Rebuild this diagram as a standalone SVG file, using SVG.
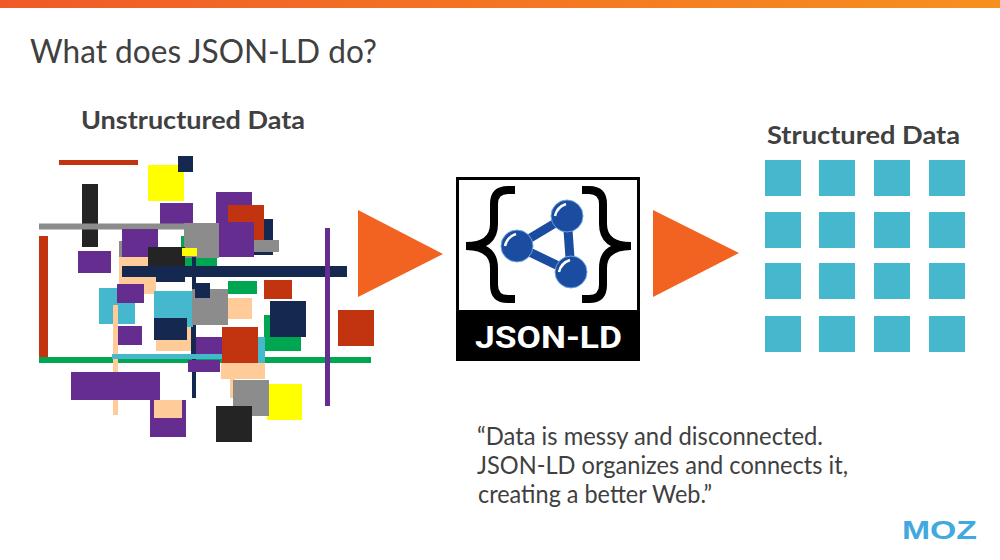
<svg xmlns="http://www.w3.org/2000/svg" width="1000" height="560" viewBox="0 0 1000 560">
<style>
text{font-family:Lato,"Open Sans","Liberation Sans",sans-serif;fill:#404040}
.h{font-weight:700;font-size:25px}
.q{font-size:25px}
.n{fill:#142850}.p{fill:#662D91}.r{fill:#C1340F}.y{fill:#FFFF00}.k{fill:#242424}.g{fill:#8C8C8C}.e{fill:#00A651}.t{fill:#45B8CE}.c{fill:#FFCC99}
.br{fill:none;stroke:#000;stroke-width:8}
.arrow{fill:#F26322}
.atom{fill:#1A4CA0;stroke:#6FA3DE;stroke-width:1}
</style>
<defs>
<linearGradient id="bar" x1="0" x2="1" y1="0" y2="0"><stop offset="0" stop-color="#F05A28"/><stop offset="1" stop-color="#F7901E"/></linearGradient>
</defs>
<rect width="1000" height="560" fill="#fff"/>
<rect width="1000" height="8" fill="url(#bar)"/>
<text id="title" x="30" y="63" font-size="33" textLength="347" lengthAdjust="spacingAndGlyphs">What does JSON-LD do?</text>

<g id="unstructured">
<text class="h" x="81" y="129" textLength="224" lengthAdjust="spacingAndGlyphs">Unstructured Data</text>
<rect class="r" x="59" y="160" width="79" height="5"/>
<rect class="y" x="148" y="165" width="36" height="36"/>
<rect class="n" x="178" y="156" width="15" height="16"/>
<rect class="p" x="160" y="203" width="33" height="21"/>
<rect class="k" x="82" y="184" width="16" height="63"/>
<rect class="g" x="39" y="223.500" width="150" height="6"/>
<rect class="r" x="39" y="236" width="9" height="121"/>
<rect class="e" x="39" y="357" width="332" height="6"/>
<rect class="g" x="119" y="241" width="10" height="20"/>
<rect class="p" x="122" y="229" width="36" height="28"/>
<rect class="p" x="78" y="251" width="33" height="22"/>
<rect class="c" x="119" y="257" width="37" height="37"/>
<rect class="e" x="181" y="236" width="6" height="12"/>
<rect class="e" x="185" y="258" width="7" height="8"/>
<rect class="e" x="196" y="258" width="21" height="8"/>
<rect class="p" x="216" y="192" width="36" height="40"/>
<rect class="r" x="228" y="205" width="36" height="35"/>
<rect class="n" x="264" y="219" width="9" height="36"/>
<rect class="n" x="254" y="250" width="19" height="5"/>
<rect class="p" x="218" y="222" width="36" height="35"/>
<rect class="r" x="254" y="222" width="10" height="18"/>
<rect class="g" x="254" y="240" width="25" height="12"/>
<rect class="g" x="184" y="223" width="35" height="35"/>
<rect class="k" x="148" y="247" width="37" height="19"/>
<rect class="n" x="192" y="257" width="4" height="141"/>
<rect class="n" x="122" y="266" width="225" height="11"/>
<rect class="n" x="156" y="266" width="29" height="16"/>
<rect class="y" x="182" y="248" width="15" height="8"/>
<rect class="t" x="99" y="288" width="36" height="36"/>
<rect class="p" x="117" y="284" width="27" height="19"/>
<rect class="c" x="113" y="305" width="5" height="110"/>
<rect class="p" x="118" y="326" width="24" height="19"/>
<rect class="t" x="154" y="291" width="39" height="36"/>
<rect class="c" x="156" y="327" width="35" height="24"/>
<rect class="n" x="154" y="318" width="33" height="22"/>
<rect class="n" x="191" y="327" width="5" height="27"/>
<rect class="g" x="192" y="289" width="36" height="36"/>
<rect class="n" x="195" y="283" width="15" height="15"/>
<rect class="c" x="228" y="298" width="24" height="21"/>
<rect class="e" x="228" y="281" width="29" height="13"/>
<rect class="r" x="264" y="280" width="28" height="19"/>
<rect class="e" x="264" y="315" width="37" height="36"/>
<rect class="n" x="270" y="301" width="36" height="36"/>
<rect class="r" x="338" y="310" width="36" height="36"/>
<rect class="p" x="325" y="228" width="5" height="178"/>
<rect class="p" x="196" y="337" width="26" height="17"/>
<rect class="p" x="188" y="360" width="32" height="12"/>
<rect class="t" x="256" y="337" width="9" height="37"/>
<rect class="t" x="112" y="354" width="110" height="5"/>
<rect class="c" x="221" y="363" width="44" height="16"/>
<rect class="r" x="222" y="327" width="36" height="36"/>
<rect class="p" x="71" y="372" width="89" height="28"/>
<rect class="p" x="150" y="400" width="36" height="37"/>
<rect class="c" x="154" y="400" width="28" height="18"/>
<rect class="c" x="230" y="379" width="5" height="19"/>
<rect class="y" x="267" y="384" width="35" height="36"/>
<rect class="g" x="233" y="380" width="36" height="36"/>
<rect class="k" x="216" y="406" width="36" height="36"/>
</g>

<g id="connectors">
<polygon class="arrow" points="358,210 443,254 358,297"/>
<polygon class="arrow" points="653,210 739,253 653,297"/>
</g>

<g id="json-ld">
<rect x="457.500" y="178.500" width="181" height="181" fill="#fff" stroke="#000" stroke-width="3"/>
<rect x="456" y="310" width="184" height="51" fill="#000"/>
<path class="br" d="M515 190H508Q494 190 494 204V224Q494 246 466 246Q494 246 494 268V285Q494 299 508 299H515"/>
<path class="br" d="M582 190H589Q603 190 603 204V224Q603 246 631 246Q603 246 603 268V285Q603 299 589 299H582"/>
<polygon points="567,216 517,246 571,272" fill="#fff" stroke="#1A4CA0" stroke-width="9" stroke-linejoin="round"/>
<circle class="atom" cx="567" cy="216" r="16"/>
<circle class="atom" cx="517" cy="246" r="16"/>
<circle class="atom" cx="571" cy="272" r="16"/>
<path d="M555 216Q557 207 566 204M505 246Q507 237 516 234M559 272Q561 263 570 260" fill="none" stroke="#fff" stroke-width="2.500"/>
<text x="475" y="348" font-size="31" font-weight="700" textLength="147" lengthAdjust="spacingAndGlyphs" style="font-family:Roboto,sans-serif;fill:#fff">JSON-LD</text>
</g>

<g id="structured">
<text class="h" x="767" y="144" textLength="193" lengthAdjust="spacingAndGlyphs">Structured Data</text>
<rect class="t" x="765" y="160" width="36" height="36"/><rect class="t" x="819" y="160" width="36" height="36"/><rect class="t" x="874" y="160" width="36" height="36"/><rect class="t" x="929" y="160" width="36" height="36"/>
<rect class="t" x="765" y="212" width="36" height="36"/><rect class="t" x="819" y="212" width="36" height="36"/><rect class="t" x="874" y="212" width="36" height="36"/><rect class="t" x="929" y="212" width="36" height="36"/>
<rect class="t" x="765" y="263" width="36" height="36"/><rect class="t" x="819" y="263" width="36" height="36"/><rect class="t" x="874" y="263" width="36" height="36"/><rect class="t" x="929" y="263" width="36" height="36"/>
<rect class="t" x="765" y="316" width="36" height="36"/><rect class="t" x="819" y="316" width="36" height="36"/><rect class="t" x="874" y="316" width="36" height="36"/><rect class="t" x="929" y="316" width="36" height="36"/>
</g>

<g id="quote">
<text class="q" x="477" y="445" textLength="346" lengthAdjust="spacingAndGlyphs">“Data is messy and disconnected.</text>
<text class="q" x="477" y="474" textLength="371" lengthAdjust="spacingAndGlyphs">JSON-LD organizes and connects it,</text>
<text class="q" x="478" y="503" textLength="234" lengthAdjust="spacingAndGlyphs">creating a better Web.”</text>
</g>

<g id="moz">
<text x="902" y="539" font-size="25" font-weight="700" textLength="75" lengthAdjust="spacingAndGlyphs" style="font-family:'Liberation Sans',sans-serif;fill:#3FA9E0">MOZ</text>
</g>
</svg>
